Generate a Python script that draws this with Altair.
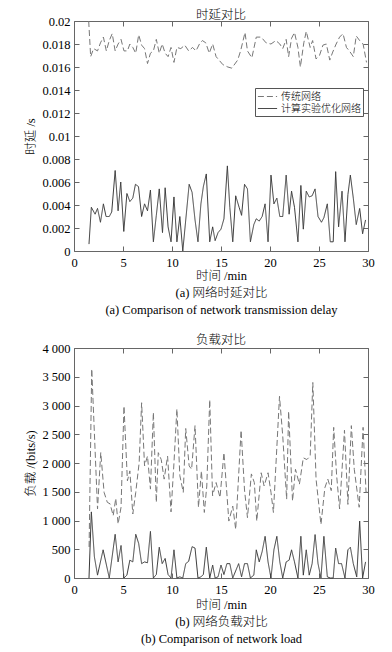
import altair as alt
import pandas as pd

FONT = "Liberation Serif, Noto Sans CJK SC, serif"
SERIES = ["传统网络", "计算实验优化网络"]
X_TICKS = [0, 5, 10, 15, 20, 25, 30]
DELAY_TICKS = [0, 0.002, 0.004, 0.006, 0.008, 0.01, 0.012, 0.014, 0.016, 0.018, 0.02]
LOAD_TICKS = [0, 500, 1000, 1500, 2000, 2500, 3000, 3500, 4000]

# (time /min, delay /s)
delay_trad = [
    (1.5, 0.020), (1.7, 0.0169), (2.0, 0.0176), (2.4, 0.0174), (2.7, 0.0181), (3.0, 0.0186), (3.3, 0.0174),
    (3.6, 0.0183), (3.9, 0.0189), (4.2, 0.0174), (4.5, 0.018), (4.8, 0.0184), (5.1, 0.0174), (5.45, 0.0174),
    (5.7, 0.018), (6.0, 0.0177), (6.3, 0.0172), (6.6, 0.0188), (6.9, 0.0179), (7.2, 0.0176), (7.5, 0.0163),
    (7.8, 0.0172), (8.1, 0.0174), (8.4, 0.0184), (8.7, 0.0172), (9.0, 0.018), (9.3, 0.0172), (9.6, 0.0169),
    (9.9, 0.0177), (10.2, 0.0164), (10.5, 0.0177), (10.9, 0.0176), (11.3, 0.0179), (11.7, 0.0174),
    (12.1, 0.0177), (12.45, 0.0174), (12.8, 0.018), (13.1, 0.0183), (13.45, 0.0181), (13.8, 0.0172),
    (14.15, 0.018), (14.5, 0.0169), (14.8, 0.0166), (15.2, 0.0162), (15.7, 0.016), (16.1, 0.0159),
    (16.7, 0.0166), (17.0, 0.0174), (17.45, 0.019), (17.7, 0.0174), (18.15, 0.0168), (18.6, 0.0186),
    (19.1, 0.0186), (19.6, 0.0181), (20.1, 0.018), (20.6, 0.0183), (21.0, 0.018), (21.3, 0.0176),
    (21.65, 0.0184), (21.9, 0.0169), (22.2, 0.0185), (22.5, 0.019), (22.85, 0.0177), (23.1, 0.016),
    (23.45, 0.0181), (23.7, 0.0191), (24.1, 0.0177), (24.35, 0.0183), (24.7, 0.0167), (25.05, 0.017),
    (25.4, 0.0179), (25.75, 0.018), (26.1, 0.0166), (26.4, 0.0173), (26.75, 0.018), (27.1, 0.0186),
    (27.45, 0.0189), (27.8, 0.0177), (28.1, 0.0174), (28.5, 0.0169), (28.8, 0.0187), (29.15, 0.0183),
    (29.5, 0.018), (29.85, 0.0164),
]
delay_opt = [
    (1.53, 0.0006), (1.77, 0.0038), (2.15, 0.0032), (2.4, 0.0037), (2.7, 0.0025), (3.0, 0.0041), (3.27, 0.003),
    (3.6, 0.003), (3.85, 0.0034), (4.2, 0.007), (4.5, 0.0035), (4.77, 0.006), (5.08, 0.0017), (5.4, 0.005),
    (5.7, 0.0043), (6.0, 0.0046), (6.27, 0.0058), (6.58, 0.0056), (6.9, 0.003), (7.2, 0.0041), (7.5, 0.0035),
    (7.8, 0.0053), (8.1, 0.0008), (8.4, 0.0031), (8.7, 0.0054), (9.03, 0.0016), (9.3, 0.0055), (9.6, 0.0021),
    (9.9, 0.0008), (10.2, 0.0047), (10.5, 0.0008), (10.8, 0.003), (11.1, 0.0), (11.75, 0.0058), (12.05, 0.0051),
    (12.35, 0.0027), (12.65, 0.0008), (12.95, 0.0041), (13.2, 0.0056), (13.5, 0.0067), (13.85, 0.0008),
    (14.15, 0.0021), (14.4, 0.0009), (14.7, 0.0016), (15.0, 0.0019), (15.3, 0.0028), (15.65, 0.0074),
    (15.9, 0.0038), (16.2, 0.0008), (16.5, 0.0048), (16.85, 0.0038), (17.1, 0.0031), (17.4, 0.0058),
    (17.7, 0.0054), (18.0, 0.0008), (18.35, 0.0023), (18.6, 0.0028), (18.9, 0.0026), (19.2, 0.003),
    (19.5, 0.0041), (19.8, 0.0008), (20.1, 0.0066), (20.4, 0.0041), (20.7, 0.0046), (21.0, 0.003),
    (21.3, 0.003), (21.65, 0.0066), (21.95, 0.0032), (22.2, 0.0052), (22.5, 0.0038), (22.85, 0.0008),
    (23.15, 0.0057), (23.4, 0.0019), (23.7, 0.0052), (24.0, 0.0047), (24.3, 0.0048), (24.6, 0.0054),
    (24.9, 0.003), (25.25, 0.0025), (25.5, 0.0029), (25.85, 0.0041), (26.15, 0.0008), (26.45, 0.0008),
    (26.7, 0.0069), (27.0, 0.0021), (27.35, 0.0052), (27.65, 0.0008), (27.95, 0.0049), (28.2, 0.0066),
    (28.5, 0.0046), (28.8, 0.0023), (29.15, 0.0037), (29.45, 0.0015), (29.75, 0.0027),
]
# (time /min, load /(bits/s))
load_trad = [
    (1.54, 540), (1.81, 3636), (2.4, 1200), (2.73, 2182), (3.07, 1489), (3.4, 1316), (3.68, 1290), (4.0, 1084),
    (4.26, 1385), (4.5, 940), (4.8, 1230), (5.1, 2990), (5.45, 1690), (5.7, 1863), (6.0, 1113), (6.3, 1489),
    (6.65, 2008), (6.9, 3048), (7.2, 1950), (7.5, 2120), (7.8, 1546), (8.1, 2880), (8.4, 1316), (8.6, 2180),
    (8.9, 2060), (9.2, 1720), (9.55, 2120), (9.9, 1150), (10.2, 2000), (10.5, 2940), (10.8, 1780),
    (11.15, 1490), (11.4, 2600), (11.75, 1950), (12.0, 1890), (12.35, 2650), (12.7, 1230), (13.0, 1860),
    (13.3, 1140), (13.55, 1600), (13.85, 3100), (14.14, 1430), (14.5, 1660), (14.9, 1400), (15.3, 2180),
    (15.8, 990), (16.2, 1250), (16.5, 845), (17.05, 2570), (17.4, 1530), (17.7, 1050), (18.1, 1810),
    (18.4, 1660), (18.65, 990), (19.1, 1830), (19.4, 1600), (19.8, 1830), (20.1, 1490), (20.35, 1140),
    (20.97, 3160), (21.3, 2470), (21.7, 1370), (21.9, 2900), (22.3, 1340), (22.6, 1890), (23.0, 1630),
    (23.4, 2090), (23.76, 2060), (24.1, 2120), (24.37, 3400), (24.7, 1720), (25.2, 930), (25.6, 1570),
    (25.9, 1720), (26.25, 1520), (26.5, 2620), (26.8, 1780), (27.1, 1200), (27.6, 2570), (27.95, 1280),
    (28.3, 2650), (28.6, 1890), (29.1, 1230), (29.5, 2620), (29.8, 1490), (30.0, 1500),
]
load_opt = [
    (1.53, 0), (1.77, 1150), (2.08, 370), (2.4, 50), (2.97, 490), (3.6, 0), (4.2, 760), (4.5, 280), (4.8, 565),
    (5.1, 0), (5.4, 50), (5.7, 310), (6.0, 280), (6.3, 760), (6.6, 600), (6.9, 250), (7.2, 280), (7.5, 265),
    (7.8, 810), (8.1, 0), (8.4, 60), (8.7, 535), (9.0, 250), (9.3, 340), (9.6, 60), (9.9, 0), (10.2, 490),
    (10.5, 0), (10.8, 20), (11.1, 0), (11.4, 250), (11.7, 290), (12.05, 545), (12.35, 520), (12.65, 0),
    (12.95, 20), (13.2, 60), (13.5, 535), (13.85, 0), (14.15, 225), (14.4, 0), (14.7, 20), (15.0, 225),
    (15.3, 60), (15.6, 250), (15.9, 250), (16.2, 0), (16.8, 250), (17.1, 20), (17.4, 250), (17.7, 250),
    (18.0, 0), (18.35, 50), (18.6, 490), (18.9, 280), (19.2, 460), (19.5, 725), (19.8, 280), (20.1, 0),
    (20.4, 490), (20.7, 725), (21.0, 280), (21.3, 0), (21.65, 280), (21.95, 310), (22.2, 490), (22.5, 280),
    (22.85, 0), (23.15, 725), (23.4, 50), (23.7, 490), (24.0, 50), (24.3, 250), (24.6, 755), (24.9, 250),
    (25.2, 0), (25.5, 725), (25.85, 20), (26.15, 0), (26.45, 0), (26.7, 520), (27.0, 250), (27.3, 250),
    (27.65, 0), (27.95, 490), (28.2, 535), (28.5, 250), (28.85, 20), (29.15, 990), (29.45, 0), (29.75, 280),
]

FRAME = "#666666"
W = 294


def to_df(trad, opt):
    rows = [{"t": t, "v": v, "s": SERIES[0]} for t, v in trad]
    rows += [{"t": t, "v": v, "s": SERIES[1]} for t, v in opt]
    return pd.DataFrame(rows)


def panel(df, title, y_title, y_ticks, y_max, label_expr, x_title, leg_x, leg_y, title_offset, height,
          x_title_pad):
    xs = alt.Scale(domain=[0, 30], nice=False, zero=False)
    ys = alt.Scale(domain=[0, y_max], nice=False)
    leg = alt.Legend(
        orient="none", legendX=leg_x, legendY=leg_y, title=None,
        symbolType="M-1.6,0H1.6", symbolSize=144, symbolStrokeWidth=1, symbolOffset=4,
        labelFont=FONT, labelFontSize=10, labelFontWeight=300, labelColor="black",
        labelOffset=7, strokeColor="#555555", fillColor="white", padding=2, rowPadding=0,
    )
    color = alt.Color("s:N", scale=alt.Scale(domain=SERIES, range=["#777777", "#383838"]), legend=leg)
    dash = alt.StrokeDash("s:N", scale=alt.Scale(domain=SERIES, range=[[6, 3], [1, 0]]), legend=leg)

    lines = alt.Chart(df).mark_line(strokeWidth=1).encode(
        x=alt.X("t:Q", scale=xs, axis=alt.Axis(
            values=X_TICKS, orient="bottom", ticks=False, tickSize=0, domain=False, grid=False,
            labelPadding=5, labelFlush=False, labelOverlap=False, title=x_title,
            titlePadding=x_title_pad, titleLineHeight=17, titleFontWeight=300)),
        y=alt.Y("v:Q", scale=ys, axis=alt.Axis(
            values=y_ticks, orient="left", ticks=False, tickSize=0, domain=False, grid=False,
            labelPadding=4, labelFlush=False, labelOverlap=False, labelExpr=label_expr,
            title=y_title, titlePadding=4, titleFontWeight=300)),
        color=color,
        strokeDash=dash,
    )

    def tick_layer(x_orient, y_orient):
        return alt.Chart(df).mark_point(opacity=0).encode(
            x=alt.X("t:Q", scale=xs, axis=alt.Axis(
                values=X_TICKS, orient=x_orient, labels=False, domain=False, grid=False,
                ticks=True, tickSize=5, offset=-5, title=None)),
            y=alt.Y("v:Q", scale=ys, axis=alt.Axis(
                values=y_ticks, orient=y_orient, labels=False, domain=False, grid=False,
                ticks=True, tickSize=5, offset=-5, title=None)),
        )

    return alt.layer(lines, tick_layer("top", "right"), tick_layer("bottom", "left")).resolve_axis(
        x="independent", y="independent"
    ).properties(
        width=W, height=height,
        title=alt.TitleParams(title, font=FONT, fontSize=12.5, fontWeight=300, color="black",
                              offset=title_offset, anchor="middle", frame="group"),
    )


top = panel(
    to_df(delay_trad, delay_opt), "时延对比", "时延 /s", DELAY_TICKS, 0.02,
    "format(datum.value, '~g')",
    ["时间 /min", "(a) 网络时延对比", "(a) Comparison of network transmission delay"],
    181, 67, -6, 230, 1,
)
bottom = panel(
    to_df(load_trad, load_opt), "负载对比", "负载 /(bits/s)", LOAD_TICKS, 4000,
    "replace(format(datum.value, ','), ',', ' ')",
    ["时间 /min", "(b) 网络负载对比", "(b) Comparison of network load"],
    176, 9, -4, 230, 3,
)

chart = alt.vconcat(top, bottom, spacing=16).properties(
    padding={"left": 16, "top": 0, "right": 4, "bottom": 0}
).configure_view(
    stroke=FRAME, strokeWidth=1
).configure_axis(
    labelFont=FONT, titleFont=FONT, labelFontSize=12.5, titleFontSize=12.5,
    labelColor="black", titleColor="black", titleFontWeight="normal", tickColor=FRAME,
)

chart.save("out.html", embed_options={"renderer": "svg", "actions": False})
